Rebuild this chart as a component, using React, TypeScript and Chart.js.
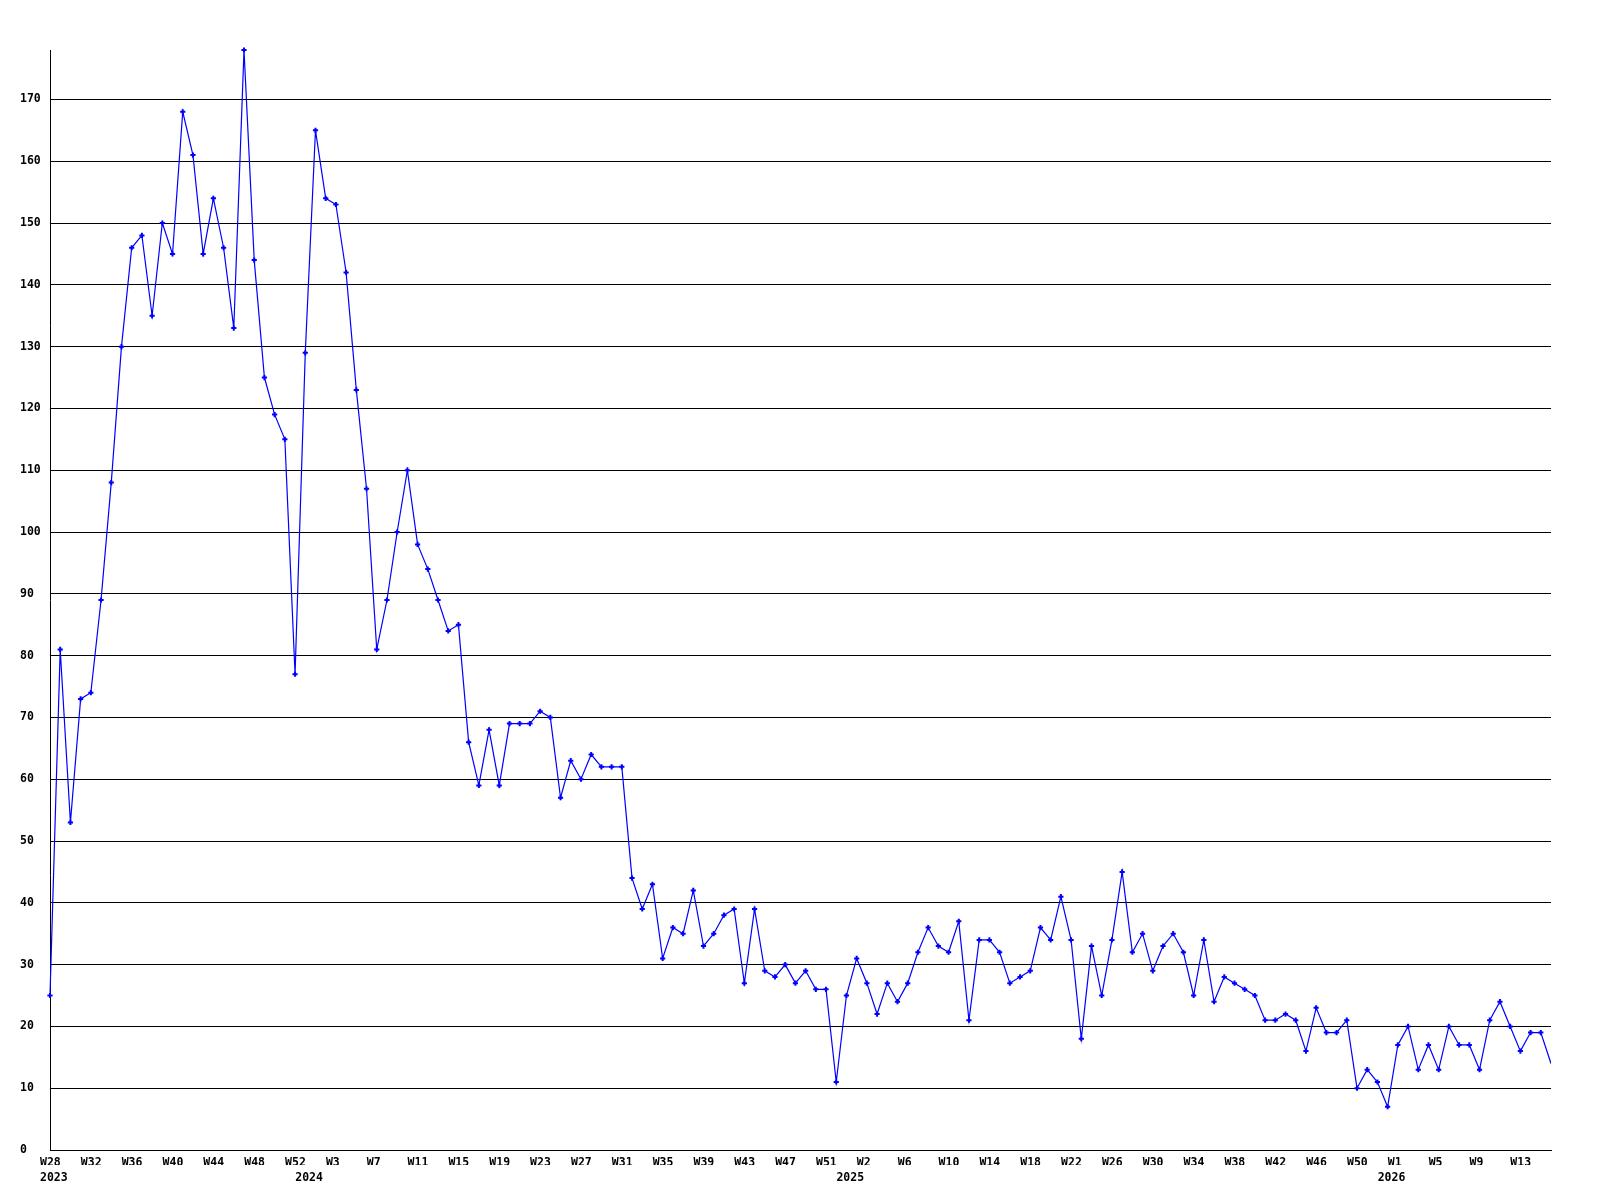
import React, { useEffect, useRef } from 'react';
import { Chart, registerables } from 'chart.js';

Chart.register(...registerables);

// Week bins shown on the x axis: each year runs from its first to its last week number
const years = [2023, 2024, 2025, 2026];
const firstWeeks = [28, 0, 0, 0];
const lastWeeks = [52, 52, 52, 16];

// Weekly values, one per bin (2023 W28 ... 2026 W16)
const values = [
  25, 81, 53, 73, 74, 89, 108, 130, 146, 148,
  135, 150, 145, 168, 161, 145, 154, 146, 133, 178,
  144, 125, 119, 115, 77, 129, 165, 154, 153, 142,
  123, 107, 81, 89, 100, 110, 98, 94, 89, 84,
  85, 66, 59, 68, 59, 69, 69, 69, 71, 70,
  57, 63, 60, 64, 62, 62, 62, 44, 39, 43,
  31, 36, 35, 42, 33, 35, 38, 39, 27, 39,
  29, 28, 30, 27, 29, 26, 26, 11, 25, 31,
  27, 22, 27, 24, 27, 32, 36, 33, 32, 37,
  21, 34, 34, 32, 27, 28, 29, 36, 34, 41,
  34, 18, 33, 25, 34, 45, 32, 35, 29, 33,
  35, 32, 25, 34, 24, 28, 27, 26, 25, 21,
  21, 22, 21, 16, 23, 19, 19, 21, 10, 13,
  11, 7, 17, 20, 13, 17, 13, 20, 17, 17,
  13, 21, 24, 20, 16, 19, 19, 14,
];

const yTicks = [0, 10, 20, 30, 40, 50, 60, 70, 80, 90, 100, 110, 120, 130, 140, 150, 160, 170];
const yMax = 178;
const weekTickStep = 4;

// Derived label tables
const weekLabels: string[] = [];
const yearStarts: { idx: number; year: number }[] = [];
years.forEach((y, k) => {
  yearStarts.push({ idx: weekLabels.length, year: y });
  for (let w = firstWeeks[k]; w <= lastWeeks[k]; w++) weekLabels.push('W' + w);
});
const lastIdx = values.length - 1;
const weekTickIdx: number[] = [];
for (let i = 0; i <= lastIdx; i += weekTickStep) weekTickIdx.push(i);

const FONT = { family: "'DejaVu Sans Mono', 'Liberation Mono', monospace", size: 11.5, weight: 'bold' as const };

export default function App() {
  const ref = useRef<HTMLCanvasElement>(null);

  useEffect(() => {
    const canvas = ref.current;
    if (!canvas) return;
    const chart = new Chart(canvas, {
      type: 'line',
      data: {
        datasets: [
          {
            data: values.map((v, i) => ({ x: i, y: v })),
            borderColor: '#0000ff',
            backgroundColor: '#0000ff',
            borderWidth: 1.2,
            tension: 0,
            fill: false,
            clip: { left: 6, top: 6, right: 0, bottom: 6 },
            pointStyle: 'cross',
            pointRadius: values.map((_, i) => (i === lastIdx ? 0 : 2.6)),
            pointBorderWidth: 2,
            pointBorderColor: '#0000ff',
            pointBackgroundColor: '#0000ff',
          },
        ],
      },
      options: {
        responsive: false,
        animation: false,
        devicePixelRatio: 1,
        layout: { padding: { left: 20, top: 50, right: 49, bottom: 15 } },
        plugins: { legend: { display: false }, tooltip: { enabled: false } },
        scales: {
          x: {
            type: 'linear',
            position: 'bottom',
            min: 0,
            max: lastIdx,
            grid: { display: false, drawTicks: false },
            border: { display: true, color: '#000', width: 1 },
            afterBuildTicks: (s: any) => {
              s.ticks = weekTickIdx.map((v) => ({ value: v }));
            },
            afterFit: (s: any) => {
              s.height = 15;
            },
            ticks: {
              autoSkip: false,
              maxRotation: 0,
              minRotation: 0,
              align: 'start',
              labelOffset: -10,
              padding: 6,
              color: '#000',
              font: FONT,
              callback: (v: any) => weekLabels[Math.round(Number(v))] ?? '',
            },
          },
          x2: {
            type: 'linear',
            position: 'bottom',
            min: 0,
            max: lastIdx,
            grid: { display: false, drawTicks: false },
            border: { display: false },
            afterBuildTicks: (s: any) => {
              s.ticks = yearStarts.map((y) => ({ value: y.idx }));
            },
            afterFit: (s: any) => {
              s.height = 20;
            },
            ticks: {
              autoSkip: false,
              maxRotation: 0,
              minRotation: 0,
              align: 'start',
              labelOffset: -10,
              padding: 6,
              color: '#000',
              font: FONT,
              callback: (v: any) => {
                const f = yearStarts.find((y) => y.idx === Math.round(Number(v)));
                return f ? String(f.year) : '';
              },
            },
          },
          y: {
            type: 'linear',
            min: 0,
            max: yMax,
            grid: { color: '#000', lineWidth: 1, drawTicks: false },
            border: { display: true, color: '#000', width: 1 },
            afterBuildTicks: (s: any) => {
              s.ticks = yTicks.map((v) => ({ value: v }));
            },
            afterFit: (s: any) => {
              s.width = 30;
            },
            ticks: {
              crossAlign: 'far',
              padding: 8,
              color: '#000',
              font: FONT,
              callback: (v: any) => String(v),
            },
          },
        },
      },
    } as any);
    return () => chart.destroy();
  }, []);

  return (
    <div style={{ position: 'fixed', left: 0, top: 0, width: 1600, height: 1200, background: '#fff' }}>
      <canvas ref={ref} width={1600} height={1200} style={{ display: 'block', width: 1600, height: 1200 }} />
    </div>
  );
}
